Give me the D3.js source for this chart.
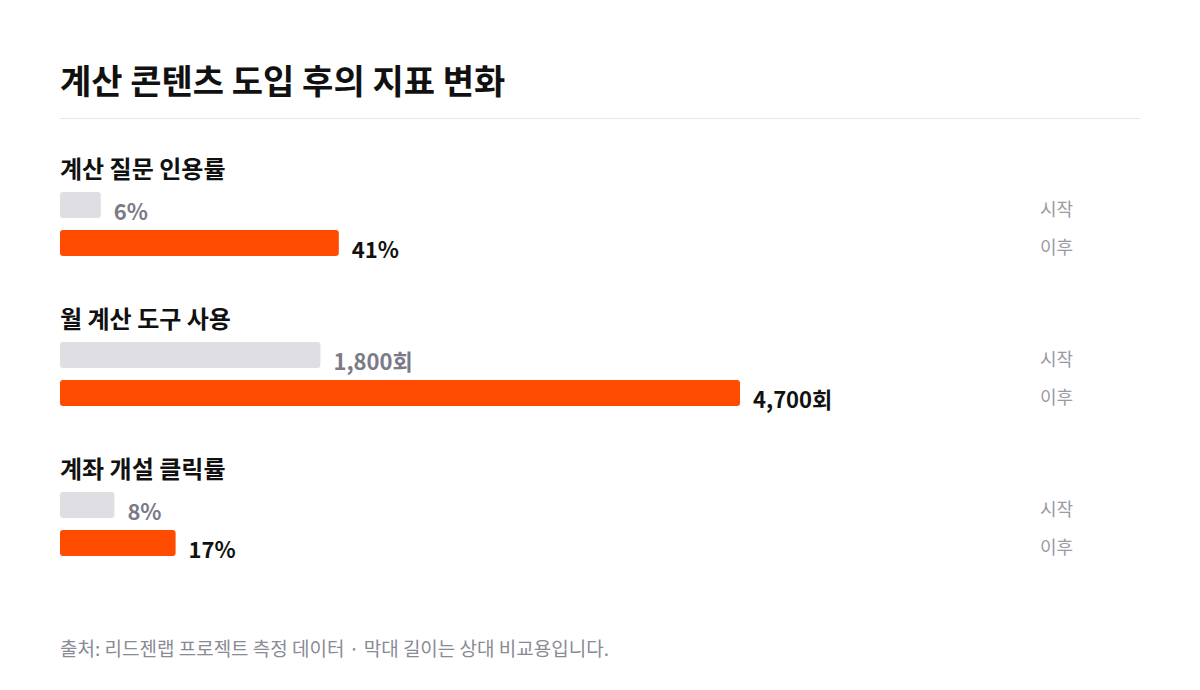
<!DOCTYPE html>
<html><head><meta charset="utf-8">
<script src="https://cdn.jsdelivr.net/npm/d3@7"></script>
<style>
html,body{margin:0;padding:0;background:#fff;}
text{font-family:"Noto Sans CJK KR","Noto Sans",sans-serif;}
</style></head>
<body><svg id="chart" width="1200" height="690"></svg>
<script>
const title = "계산 콘텐츠 도입 후의 지표 변화";
const metrics = ["계산 질문 인용률", "월 계산 도구 사용", "계좌 개설 클릭률"];
const beforeValues = [6, 1800, 8];
const afterValues = [41, 4700, 17];
const units = ["%", "회", "%"];
const domainMax = [100, 4700, 100];
const phaseLabels = ["시작", "이후"];
const footnote = "출처: 리드젠랩 프로젝트 측정 데이터 · 막대 길이는 상대 비교용입니다.";

const svg = d3.select("#chart");
const left = 60, right = 1140, barMaxW = 680;

svg.append("text").attr("x", left).attr("y", 94)
  .attr("font-size", 34).attr("font-weight", 700).attr("fill", "#111")
  .text(title);
svg.append("line").attr("x1", left).attr("x2", right).attr("y1", 118.5).attr("y2", 118.5)
  .attr("stroke", "#e6e6e6").attr("stroke-width", 1);

const groupY = d3.scaleBand().domain(metrics).range([140, 590]).paddingInner(0);
const fmt = d3.format(",");

metrics.forEach((m, i) => {
  const g = svg.append("g").attr("transform", `translate(0,${groupY(m)})`);
  const x = d3.scaleLinear().domain([0, domainMax[i]]).range([0, barMaxW]);
  g.append("text").attr("x", left).attr("y", 38)
    .attr("font-size", 24).attr("font-weight", 700).attr("fill", "#111")
    .text(m);
  const rows = [
    {v: beforeValues[i], fill: "#dfdee3", tc: "#7b7a88", label: phaseLabels[0]},
    {v: afterValues[i], fill: "#ff4b00", tc: "#111", label: phaseLabels[1]}
  ];
  rows.forEach((r, j) => {
    const y = 52 + j * 38;
    const w = x(r.v);
    g.append("rect").attr("x", left).attr("y", y).attr("width", w).attr("height", 26)
      .attr("rx", 3).attr("fill", r.fill);
    g.append("text").attr("x", left + w + 13).attr("y", y + 28)
      .attr("font-size", 22).attr("font-weight", 700).attr("fill", r.tc)
      .text(fmt(r.v) + units[i]);
    g.append("text").attr("x", 1040).attr("y", y + 24)
      .attr("font-size", 18).attr("fill", "#9a9aa3").text(r.label);
  });
});

svg.append("text").attr("x", left).attr("y", 656)
  .attr("font-size", 19).attr("fill", "#8a8a95").text(footnote);
</script></body></html>
